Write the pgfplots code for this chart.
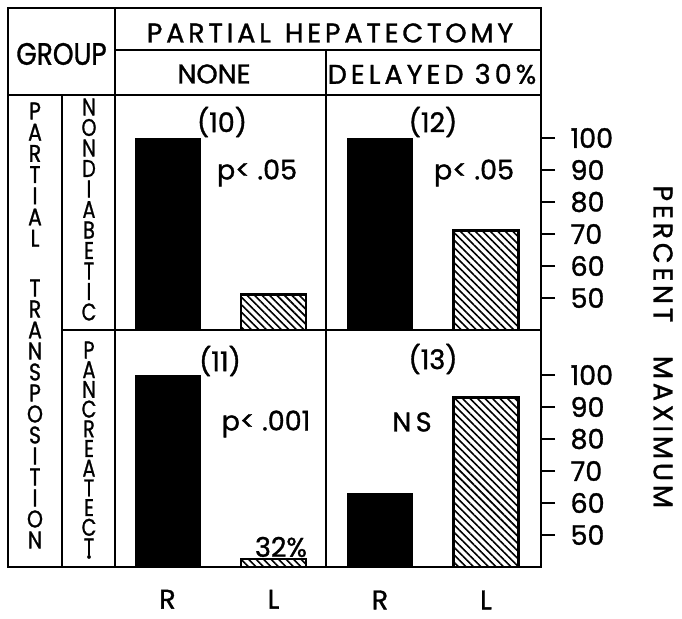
\documentclass[border=0pt]{standalone}
\usepackage{fontspec}
\setmainfont{Poppins}[FakeBold=1.2]
\newfontfamily\spaced[LetterSpace=14,FakeBold=1.2]{Poppins}
\newfontfamily\spacedb[LetterSpace=15,FakeBold=1.2]{Poppins}
\usepackage{pgfplots}
\pgfplotsset{compat=1.18}
\usetikzlibrary{patterns.meta}

\newcommand{\fs}{\fontsize{27}{29}\selectfont}

\begin{document}
\begin{tikzpicture}
\path (0pt,0pt) rectangle (682pt,618pt);
\pgfplotsset{
  panel/.style={scale only axis, axis line style={draw=none}, ybar, bar width=65pt, bar shift=0pt,
    ymin=40, xtick=\empty, ytick=\empty, clip=true, anchor=south west},
  rpanel/.style={ytick={50,60,...,100}, ytick pos=right, tick align=outside,
    major tick length=14pt, major tick style={line width=2.6pt, black},
    yticklabel style={font=\fs, anchor=west, xshift=12pt},
    /pgf/number format/assume math mode=true},
  bpanel/.style={xtick={1,2}, xticklabels={R,L}, xtick style={draw=none},
    xticklabel style={font=\fs, yshift=#1}},
  hatchbar/.style={draw=black, line width=2.6pt, pattern={Lines[angle=-45,distance=5.3pt,line width=1.6pt]}},
  blkbar/.style={draw=black, fill=black},
}
% (10) top-left
\begin{axis}[panel, at={(115pt,288pt)}, width=211pt, height=235pt, xmin=0.505, xmax=2.495, ymax=113.44]
\addplot[blkbar] coordinates {(1,100)};
\addplot[hatchbar] coordinates {(2,51)};
\end{axis}
% (12) top-right
\begin{axis}[panel, rpanel, at={(326pt,288pt)}, width=215pt, height=235pt, xmin=0.491, xmax=2.519, ymax=113.44]
\addplot[blkbar] coordinates {(1,100)};
\addplot[hatchbar] coordinates {(2,71)};
\end{axis}
% (11) bottom-left
\begin{axis}[panel, bpanel=-15pt, at={(115pt,51pt)}, width=211pt, height=237pt, xmin=0.505, xmax=2.495, ymax=114.06]
\addplot[blkbar] coordinates {(1,100)};
\addplot[hatchbar] coordinates {(2,42.5)}; % 32% (below axis range), drawn as stub
\end{axis}
% (13) bottom-right
\begin{axis}[panel, rpanel, bpanel=-6pt, at={(326pt,51pt)}, width=215pt, height=237pt, xmin=0.491, xmax=2.519, ymax=114.06]
\addplot[blkbar] coordinates {(1,63)};
\addplot[hatchbar] coordinates {(2,93)};
\end{axis}

% table grid
\begin{scope}[line width=2.8pt, line cap=rect]
\draw (8pt,51pt) rectangle (541pt,610pt);
\draw (115pt,568pt) -- (541pt,568pt);
\draw (8pt,523pt) -- (541pt,523pt);
\draw (115pt,610pt) -- (115pt,51pt);
\draw (326pt,568pt) -- (326pt,51pt);
\draw (62pt,523pt) -- (62pt,51pt);
\draw (62pt,288pt) -- (541pt,288pt);
\end{scope}

% headers
\node[font=\fontsize{31}{33}\selectfont, xscale=0.85] at (61.5pt,564pt) {GROUP};
\node[font=\fs\spaced] at (330pt,585pt) {PARTIAL\hspace{14pt}HEPATECTOMY};
\node[font=\fs] at (214pt,544pt) {NONE};
\node[font=\fs\spacedb] at (432pt,544pt) {DELAYED 30\%};

% stacked letters
\foreach \c [count=\i from 0] in {P,A,R,T,I,A,L}
  \node[font=\fontsize{24}{26}\selectfont, inner sep=0pt, xscale=0.85] at (35pt,{(507-21.2*\i)*1pt}) {\c};
\foreach \c [count=\i from 0] in {T,R,A,N,S,P,O,S,I,T,I,O,N}
  \node[font=\fontsize{24}{26}\selectfont, inner sep=0pt, xscale=0.85] at (35pt,{(330-21*\i)*1pt}) {\c};
\foreach \c [count=\i from 0] in {N,O,N,D,I,A,B,E,T,I,C}
  \node[font=\fontsize{24}{26}\selectfont, inner sep=0pt, xscale=0.8] at (89pt,{(511-20.5*\i)*1pt}) {\c};
\foreach \c [count=\i from 0] in {P,A,N,C,R,E,A,T,E,C,T}
  \node[font=\fontsize{24}{26}\selectfont, inner sep=0pt, xscale=0.8] at (89pt,{(268-19.7*\i)*1pt}) {\c};
\node[font=\fs, inner sep=0pt] at (89pt,61pt) {.};

% annotations
\node[font=\fs] at (222pt,496pt) {(10)};
\node[font=\fs] at (257pt,445pt) {p< .05};
\node[font=\fs] at (433pt,496pt) {(12)};
\node[font=\fs] at (474pt,445pt) {p< .05};
\node[font=\fs] at (220pt,257pt) {(11)};
\node[font=\fs] at (266pt,194pt) {p< .001};
\node[font=\fs] at (433pt,259pt) {(13)};
\node[font=\fs] at (412pt,196pt) {N\,S};
\node[font=\fs] at (281pt,71pt) {32\%};

% right label
\node[font=\fontsize{27}{29}\selectfont\spaced, rotate=-90] at (663pt,364pt) {PERCENT};
\node[font=\fontsize{27}{29}\selectfont\spaced, rotate=-90] at (663pt,186pt) {MAXIMUM};
\end{tikzpicture}
\end{document}
